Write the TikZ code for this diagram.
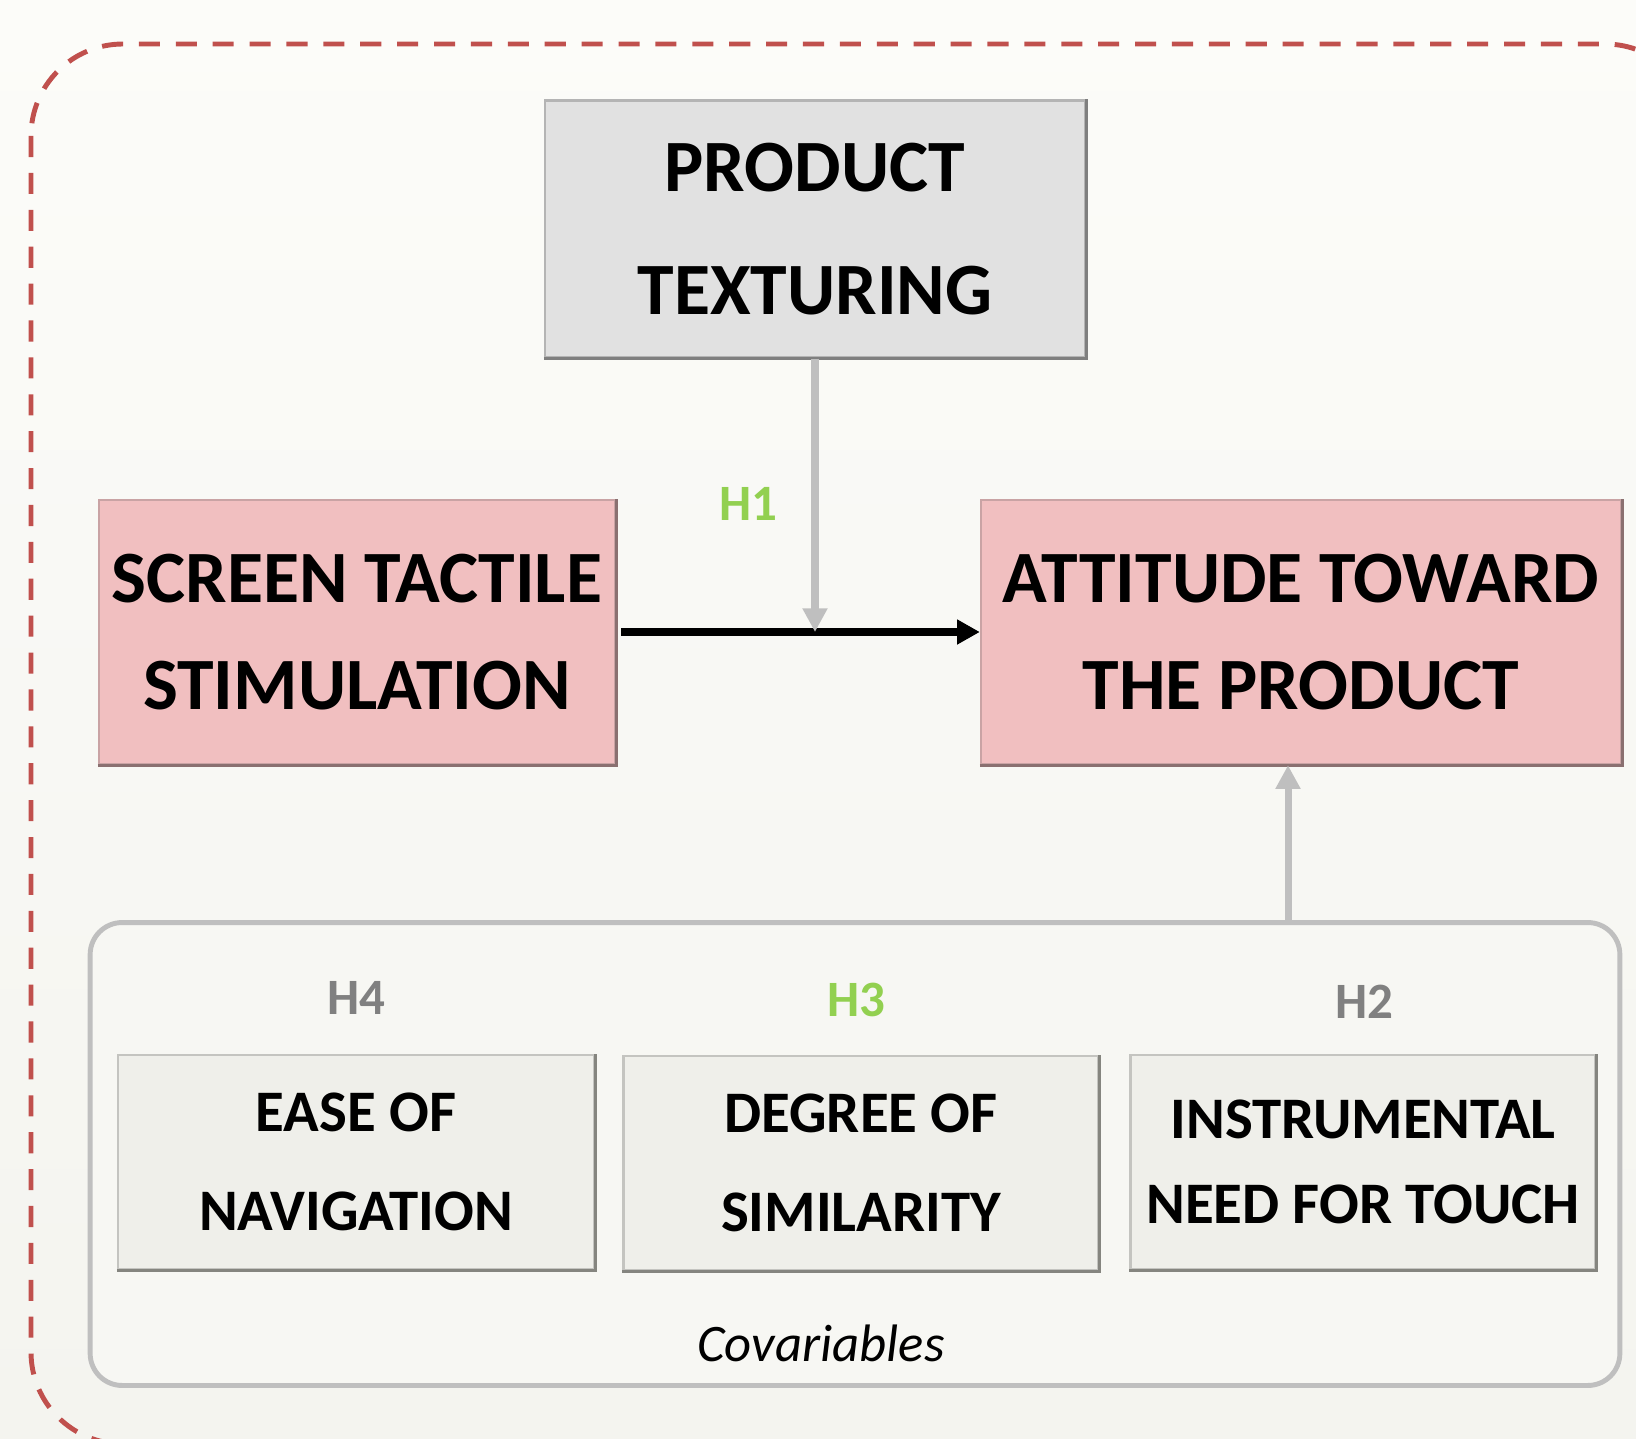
\documentclass[tikz,border=0pt]{standalone}
\usepackage{fontspec}
\setmainfont{Carlito}
\usetikzlibrary{arrows.meta}

\definecolor{bgtop}{HTML}{FCFCF9}
\definecolor{bgbot}{HTML}{F4F4EF}
\definecolor{framered}{HTML}{C0504D}
\definecolor{pinkfill}{HTML}{F1BFC0}
\definecolor{pinkline}{HTML}{C9A3A4}
\definecolor{pinkdark}{HTML}{8A7070}
\definecolor{greyfill}{HTML}{E1E1E1}
\definecolor{greyline}{HTML}{B4B4B4}
\definecolor{greydark}{HTML}{7F7F7F}
\definecolor{covfill}{HTML}{EFEFEA}
\definecolor{covline}{HTML}{C4C4C0}
\definecolor{covdark}{HTML}{85857F}
\definecolor{arrowgrey}{HTML}{BFBFBF}
\definecolor{hgreen}{HTML}{92D050}
\definecolor{hgrey}{HTML}{808080}

\begin{document}
\begin{tikzpicture}[x=0.02cm,y=-0.02cm,
    bigbox/.style={line width=1.4pt,align=center,inner sep=0pt,
        font=\bfseries\fontsize{42}{61}\selectfont},
    smallbox/.style={draw=covline,fill=covfill,line width=1.4pt,align=center,inner sep=0pt,
        minimum height=4.28cm,font=\bfseries\fontsize{33.5}{56}\selectfont},
    hlabel/.style={font=\bfseries\fontsize{29}{29}\selectfont},
    greyarrow/.style={draw=arrowgrey,line width=4pt,-{Triangle[length=13.5pt,width=13.5pt]}}]
        \useasboundingbox (0,0) rectangle (1636,1439);
        \shade[top color=bgtop,bottom color=bgbot] (0,0) rectangle (1636,1439);
        \begin{scope}
            \clip (0,0) rectangle (1636,1439);
            \draw[framered,line width=2.8pt,dash pattern=on 12pt off 9pt,rounded corners=1.84cm]
                (31,44) rectangle (1697,1444);
        \end{scope}
        % covariables frame
        \node[draw=arrowgrey,line width=2.8pt,rounded corners=0.64cm,fill=bgbot!60!bgtop,
            minimum width=30.6cm,minimum height=9.26cm] at (855,1154) (cov) {};
        % main boxes
        \node[bigbox,draw=greyline,fill=greyfill,minimum width=10.8cm,minimum height=5.14cm,
            font=\bfseries\fontsize{42}{70}\selectfont] at (815,229) (prod) {PRODUCT\\TEXTURING};
        \node[bigbox,draw=pinkline,fill=pinkfill,minimum width=10.32cm,minimum height=5.28cm]
            at (357,632) (stim) {SCREEN TACTILE\\STIMULATION};
        \node[bigbox,draw=pinkline,fill=pinkfill,minimum width=12.8cm,minimum height=5.28cm]
            at (1301,632) (att) {ATTITUDE TOWARD\\THE PRODUCT};
        \node[smallbox,minimum width=9.52cm] at (356,1162) (ease) {EASE OF\\NAVIGATION};
        \node[smallbox,minimum width=9.5cm] at (861,1163) (sim) {DEGREE OF\\SIMILARITY};
        \node[smallbox,minimum width=9.3cm,font=\bfseries\fontsize{33.5}{48}\selectfont]
            at (1363,1162) (ntt) {INSTRUMENTAL\\NEED FOR TOUCH};
        % darker lower and right edges
        \draw[greydark,line width=1.6pt] (prod.south west) -- (prod.south east) -- (prod.north east);
        \foreach \n in {stim,att}
            \draw[pinkdark,line width=1.6pt] (\n.south west) -- (\n.south east) -- (\n.north east);
        \foreach \n in {ease,sim,ntt}
            \draw[covdark,line width=1.6pt] (\n.south west) -- (\n.south east) -- (\n.north east);
        % hypotheses
        \node[hlabel,text=hgreen] at (748,504) (h1) {H1};
        \node[hlabel,text=hgrey] at (356,998) (h4) {H4};
        \node[hlabel,text=hgreen] at (856,1000) (h3) {H3};
        \node[hlabel,text=hgrey] at (1364,1002) (h2) {H2};
        \node[font=\itshape\fontsize{30}{30}\selectfont] at (821,1343) (covlab) {Covariables};
        % arrows
        \coordinate (mod) at (prod.south |- stim.east);
        \coordinate (up) at (1288,923);
        \draw[line width=4.3pt,-{Triangle[length=13pt,width=13.5pt]},shorten <=3pt] (stim.east) to (att.west);
        \draw[greyarrow] (prod.south) to (mod);
        \draw[greyarrow] (up) to (up |- att.south);
\end{tikzpicture}
\end{document}
